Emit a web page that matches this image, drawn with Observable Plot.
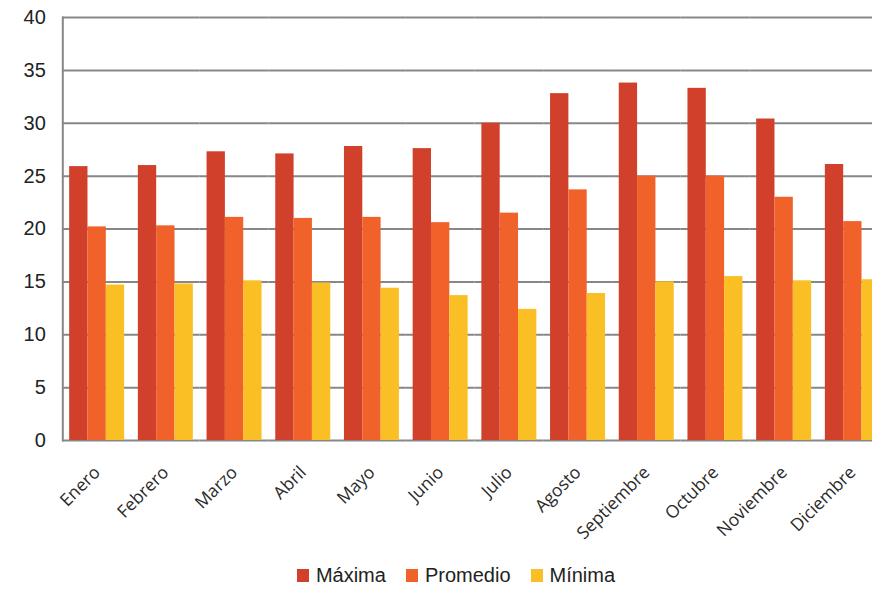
<!DOCTYPE html>
<html>
<head>
<meta charset="utf-8">
<script src="https://cdn.jsdelivr.net/npm/d3@7"></script>
<script src="https://cdn.jsdelivr.net/npm/@observablehq/plot@0.6"></script>
<style>
  html, body { margin: 0; padding: 0; background: #fff; overflow: hidden; }
  #chart { width: 872px; height: 589px; position: relative; }
  #chart svg { display: block; }
  .legend {
    display: flex; justify-content: center; align-items: center;
    gap: 20px; padding-left: 40px; margin-top: 14px;
    font-family: "Liberation Sans", Arial, sans-serif; font-size: 20px; color: #222;
  }
  .legend span.item { display: flex; align-items: center; gap: 7px; }
  .legend span.sw { width: 12px; height: 13px; display: inline-block; }
</style>
</head>
<body>
<div id="chart"></div>
<script>
// Monthly temperatures (°C): maximum, average and minimum
const months = ["Enero", "Febrero", "Marzo", "Abril", "Mayo", "Junio", "Julio",
  "Agosto", "Septiembre", "Octubre", "Noviembre", "Diciembre"];
const maxima   = [25.9, 26.0, 27.3, 27.1, 27.8, 27.6, 30.0, 32.8, 33.8, 33.3, 30.4, 26.1];
const promedio = [20.2, 20.3, 21.1, 21.0, 21.1, 20.6, 21.5, 23.7, 25.0, 25.0, 23.0, 20.7];
const minima   = [14.7, 14.8, 15.1, 14.9, 14.4, 13.7, 12.4, 13.9, 15.0, 15.5, 15.1, 15.2];
const series = ["Máxima", "Promedio", "Mínima"];
const colors = ["#d0402a", "#f0622a", "#fbbf26"];
const yTicks = [0, 5, 10, 15, 20, 25, 30, 35, 40];

const values = [maxima, promedio, minima];
const data = months.flatMap((month, i) =>
  series.map((s, k) => ({month, series: s, value: values[k][i]})));

const gridColor = "#878787";

const chart = Plot.plot({
  width: 872,
  height: 550,
  marginLeft: 62.3,
  marginRight: -14.7,
  marginTop: 17,
  marginBottom: 110,
  style: {background: "#fff", overflow: "visible"},
  fx: {domain: months, padding: 0, round: false},
  x: {domain: series, paddingInner: 0, paddingOuter: 0.374, round: false, axis: null},
  y: {domain: [0, 40]},
  color: {domain: series, range: colors},
  marks: [
    Plot.ruleY(yTicks, {stroke: gridColor, strokeWidth: 2}),
    Plot.frame({anchor: "left", facetAnchor: "left", stroke: gridColor, strokeWidth: 2}),
    Plot.barY(data, {fx: "month", x: "series", y: "value", fill: "series"}),
    Plot.axisY({
      ticks: yTicks, tickSize: 0, tickPadding: 17, label: null,
      fontSize: 20, fontFamily: "Liberation Sans Narrow, Arial Narrow, Liberation Sans, sans-serif",
      fill: "#222"
    }),
    Plot.axisFx({
      anchor: "bottom", tickRotate: -45, tickSize: 0, tickPadding: 29, label: null,
      fontSize: 17.5, fontFamily: "Open Sans, sans-serif", fill: "#2a2a2a"
    })
  ]
});

const root = document.getElementById("chart");
root.appendChild(chart);

const legend = document.createElement("div");
legend.className = "legend";
series.forEach((s, k) => {
  const item = document.createElement("span");
  item.className = "item";
  const sw = document.createElement("span");
  sw.className = "sw";
  sw.style.background = colors[k];
  const label = document.createElement("span");
  label.textContent = s;
  item.appendChild(sw);
  item.appendChild(label);
  legend.appendChild(item);
});
root.appendChild(legend);
</script>
</body>
</html>
